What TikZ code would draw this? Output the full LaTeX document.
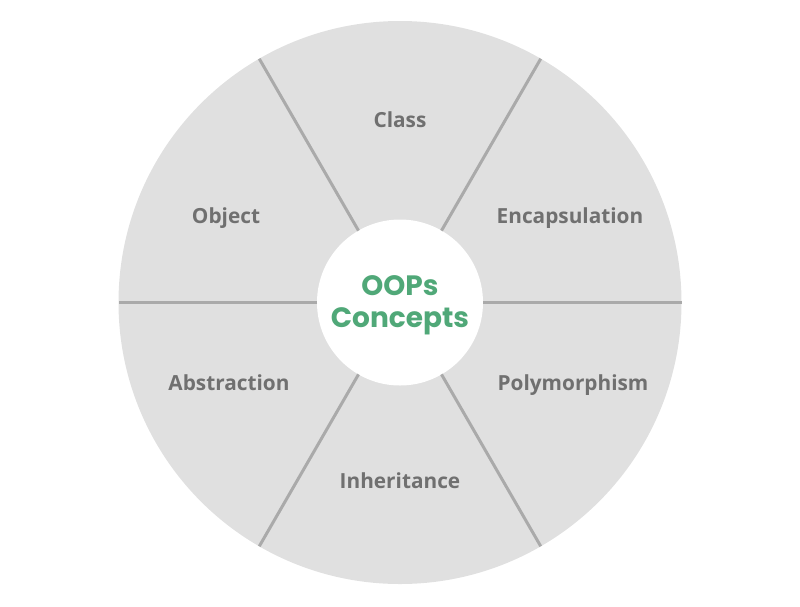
\documentclass[tikz,border=0pt]{standalone}
\usepackage{fontspec}
\setmainfont{Open Sans}
\newfontfamily\hubfont{Poppins}
\definecolor{wheelgray}{RGB}{224,224,224}
\definecolor{spokegray}{RGB}{170,170,170}
\definecolor{labelgray}{RGB}{112,112,112}
\definecolor{oopsgreen}{RGB}{80,168,120}
\usetikzlibrary{positioning}

\begin{document}
\begin{tikzpicture}[x=1pt,y=-1pt,
    concept/.style={font=\fontsize{20.8}{24}\selectfont\bfseries,text=labelgray},
    spoke/.style={draw=spokegray,line width=3pt}]
    \useasboundingbox (0,0) rectangle (800,606);

    % Outer wheel and white hub
    \node[circle,fill=wheelgray,minimum size=563pt,inner sep=0pt,outer sep=0pt] (wheel) at (400,302.5) {};
    \node[circle,fill=white,minimum size=166pt,inner sep=0pt,outer sep=0pt] (hub) at (400,302.5) {};

    % Spokes between the six sectors
    \foreach \a in {0,60,120,180,240,300}
        \draw[spoke] (hub.\a) -- (wheel.\a);

    % Centre title
    \node[font=\hubfont\fontsize{28}{32}\selectfont\bfseries,text=oopsgreen,align=center] (title) at (400,305) {OOPs\\Concepts};

    % Concept labels
    \node[concept] (class) at (400,120) {Class};
    \node[concept] (encap) at (570,218) {Encapsulation};
    \node[concept] (poly) at (573,385) {Polymorphism};
    \node[concept] (inherit) at (400,481) {Inheritance};
    \node[concept] (abstr) at (229,383) {Abstraction};
    \node[concept] (object) at (226,218) {Object};
\end{tikzpicture}
\end{document}
